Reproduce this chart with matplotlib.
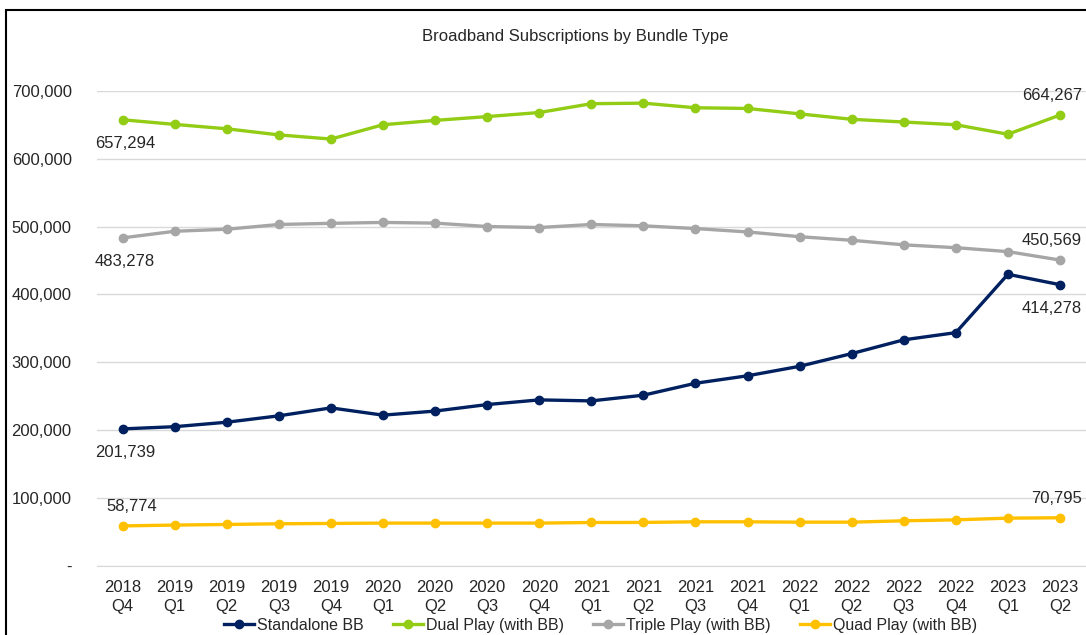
import numpy as np
import matplotlib.pyplot as plt
from matplotlib.patches import Rectangle
from matplotlib.ticker import FuncFormatter

plt.rcParams['font.family'] = ['Liberation Sans', 'DejaVu Sans']

# quarter labels
quarters = ["2018\nQ4", "2019\nQ1", "2019\nQ2", "2019\nQ3", "2019\nQ4",
            "2020\nQ1", "2020\nQ2", "2020\nQ3", "2020\nQ4",
            "2021\nQ1", "2021\nQ2", "2021\nQ3", "2021\nQ4",
            "2022\nQ1", "2022\nQ2", "2022\nQ3", "2022\nQ4",
            "2023\nQ1", "2023\nQ2"]

standalone = [201739, 205000, 211600, 221000, 232700, 222000, 228000, 237600, 244500,
              243000, 251400, 269000, 280000, 294000, 312700, 333000, 343600, 429600, 414278]
dual = [657294, 650500, 644000, 635000, 628900, 650000, 656400, 662000, 668000,
        681000, 681800, 675000, 674000, 666000, 658000, 654000, 650000, 636000, 664267]
triple = [483278, 493000, 496000, 503000, 504700, 506000, 505000, 500000, 498500,
          503000, 501000, 497000, 492000, 485000, 479700, 473000, 468800, 463000, 450569]
quad = [58774, 60000, 60900, 61900, 62400, 62900, 62900, 62900, 62900,
        63800, 63900, 64800, 64800, 64300, 64300, 66300, 67700, 70200, 70795]

series = [("Standalone BB", standalone, "#002060"),
          ("Dual Play (with BB)", dual, "#92CC14"),
          ("Triple Play (with BB)", triple, "#A6A6A6"),
          ("Quad Play (with BB)", quad, "#FFC000")]

fig = plt.figure(figsize=(10.86, 6.35), dpi=100)
ax = fig.add_axes([0.089, 0.109, 0.911, 0.748])

x = np.arange(len(quarters))
for name, vals, col in series:
    ax.plot(x, vals, color=col, lw=2.4, marker='o', ms=6, label=name, clip_on=False)

# end labels
def lab(i, v, dx, dy, ha):
    ax.annotate(f"{v:,}", (x[i], v), xytext=(dx, dy), textcoords='offset points',
                ha=ha, va='center', fontsize=12, color='#262626')

lab(0, dual[0], -20, -17, 'left')
lab(0, triple[0], -20, -17, 'left')
lab(0, standalone[0], -20, -17, 'left')
lab(0, quad[0], -12, 14, 'left')
lab(-1, dual[-1], 16, 14, 'right')
lab(-1, triple[-1], 16, 14, 'right')
lab(-1, standalone[-1], 16, -17, 'right')
lab(-1, quad[-1], 16, 14, 'right')

ax.set_xlim(-0.5, len(quarters) - 0.5)
ax.set_ylim(0, 700000)
ax.set_yticks(np.arange(0, 700001, 100000))
ax.yaxis.set_major_formatter(FuncFormatter(lambda v, p: "-" if v == 0 else f"{int(v):,}"))
ax.set_xticks(x)
ax.set_xticklabels(quarters, linespacing=1.35)
ax.tick_params(axis='both', length=0, labelsize=12, labelcolor='#262626')
ax.tick_params(axis='y', pad=18)
ax.tick_params(axis='x', pad=10)
ax.grid(axis='y', color='#D9D9D9', lw=1)
ax.set_axisbelow(True)
for s in ['top', 'right', 'left']:
    ax.spines[s].set_visible(False)
ax.spines['bottom'].set_color('#D9D9D9')

fig.text(0.53, 0.942, "Broadband Subscriptions by Bundle Type", ha='center', va='center',
         fontsize=12, color='#262626')

handles, labels = ax.get_legend_handles_labels()
fig.legend(handles, labels, loc='center', bbox_to_anchor=(0.553, 0.015), ncol=4,
           frameon=False, fontsize=11.5, handlelength=1.9, handletextpad=0.2,
           columnspacing=1.8, labelcolor='#262626', borderpad=0)

fig.patches.append(Rectangle((6 / 1086, -0.05), 1.2, 1 - 10 / 635 + 0.05,
                             transform=fig.transFigure, fill=False, ec='black', lw=1.5))

fig.savefig("out.png", dpi=100)
